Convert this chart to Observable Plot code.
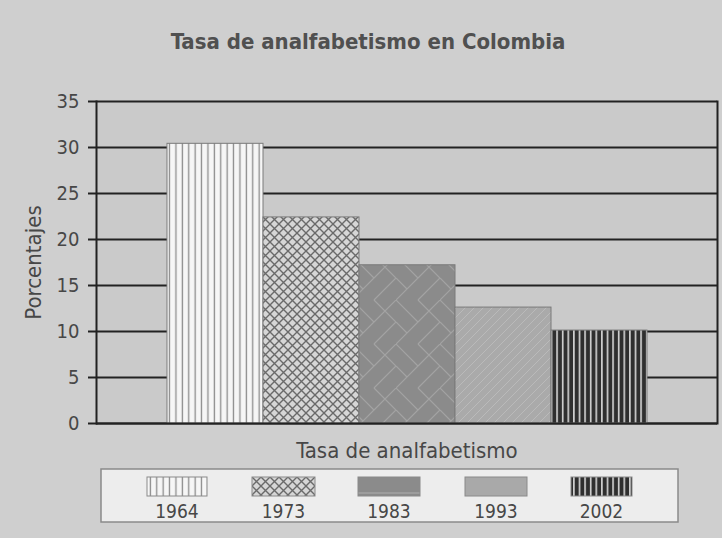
<!DOCTYPE html>
<html>
<head>
<meta charset="utf-8">
<script src="https://cdn.jsdelivr.net/npm/d3@7"></script>
<script src="https://cdn.jsdelivr.net/npm/@observablehq/plot@0.6"></script>
<style>
  html, body { margin: 0; padding: 0; }
  body { width: 722px; height: 538px; background: #cfcfcf; overflow: hidden; position: relative;
         font-family: "DejaVu Sans Condensed", "DejaVu Sans", sans-serif; color: #474747; }
  #title { position: absolute; left: 0; top: 29px; width: 736px; text-align: center;
           font-size: 22px; font-weight: bold; color: #505050; }
  #chart { position: absolute; left: 0; top: 80px; }
  #legend { position: absolute; left: 0; top: 0; }
</style>
</head>
<body>
<svg width="0" height="0" style="position:absolute">
  <defs>
    <pattern id="p1964" patternUnits="userSpaceOnUse" width="6.4" height="10">
      <rect width="6.4" height="10" fill="#f6f6f6"/>
      <rect x="2.5" width="1.3" height="10" fill="#8a8a8a"/>
    </pattern>
    <pattern id="p1973" patternUnits="userSpaceOnUse" width="9" height="9">
      <rect width="9" height="9" fill="#d6d6d6"/>
      <path d="M0,0L9,9M9,0L0,9" stroke="#6a6a6a" stroke-width="1.4"/>
    </pattern>
    <pattern id="p1983" patternUnits="userSpaceOnUse" width="44" height="44">
      <rect width="44" height="44" fill="#8b8b8b"/>
      <path d="M0,0L22,22L0,44M0,22L11,33M22,0L44,22L22,44M22,22L44,0M22,44L44,22" stroke="#a3a3a3" stroke-width="1.2" fill="none"/>
    </pattern>
    <pattern id="p1993" patternUnits="userSpaceOnUse" width="9" height="9">
      <rect width="9" height="9" fill="#aaaaaa"/>
      <path d="M-3,3L3,-3M0,9L9,0M6,12L12,6" stroke="#bababa" stroke-width="1"/>
    </pattern>
    <pattern id="p2002" patternUnits="userSpaceOnUse" width="5.6" height="10">
      <rect width="5.6" height="10" fill="#2f2f2f"/>
      <rect x="2" width="1.4" height="10" fill="#eeeeee"/>
    </pattern>
    <pattern id="l1983" patternUnits="userSpaceOnUse" width="10" height="19" y="477">
      <rect width="10" height="19" fill="#8b8b8b"/>
      <rect y="15.5" width="10" height="1" fill="#b0b0b0"/>
    </pattern>
  </defs>
</svg>
<div id="title">Tasa de analfabetismo en Colombia</div>
<div id="chart"></div>
<svg id="legend" width="722" height="538"></svg>
<script>
const years = ["1964", "1973", "1983", "1993", "2002"];
const values = [30.4, 22.4, 17.2, 12.6, 10.1];
const yTicks = [0, 5, 10, 15, 20, 25, 30, 35];
const yLabel = "Porcentajes";
const xLabel = "Tasa de analfabetismo";

const data = years.map((y, i) => ({year: y, value: values[i]}));
const font = "'DejaVu Sans Condensed', 'DejaVu Sans', sans-serif";

const chart = Plot.plot({
  width: 722,
  height: 382,
  marginTop: 21,
  marginBottom: 39,
  marginLeft: 96,
  marginRight: 5,
  style: {background: "transparent", fontFamily: font, fontSize: "20px", color: "#474747"},
  x: {domain: years, paddingInner: 0, paddingOuter: 0.72, axis: null},
  y: {domain: [0, 35], ticks: yTicks, axis: null},
  color: {type: "identity"},
  marks: [
    Plot.frame({fill: "#cacaca", stroke: "none"}),
    Plot.ruleY(yTicks, {stroke: "#222", strokeWidth: 2}),
    Plot.barY(data, {x: "year", y: "value", fill: d => `url(#p${d.year})`, stroke: "#7a7a7a", strokeWidth: 1}),
    Plot.ruleY([0], {stroke: "#222", strokeWidth: 2}),
    Plot.axisY({ticks: yTicks, tickSize: 8, tickPadding: 9, label: null, stroke: "#222", strokeWidth: 2, fill: "#474747", fontSize: 20}),
    Plot.frame({anchor: "left", stroke: "#222", strokeWidth: 2}),
    Plot.frame({anchor: "right", stroke: "#222", strokeWidth: 2}),
    Plot.text([yLabel], {frameAnchor: "left", textAnchor: "middle", dx: -63, rotate: -90, fill: "#474747", fontSize: 22}),
    Plot.text([xLabel], {frameAnchor: "bottom", lineAnchor: "bottom", dy: 34, fill: "#474747", fontSize: 22})
  ]
});
document.getElementById("chart").appendChild(chart);

// legend
const leg = d3.select("#legend");
leg.append("rect").attr("x", 101).attr("y", 469).attr("width", 577).attr("height", 53)
  .attr("fill", "#ededed").attr("stroke", "#8a8a8a").attr("stroke-width", 1.5);
const swX = [147, 252, 358, 465, 571];
const swW = [60, 63, 62, 62, 61];
const swFill = ["url(#p1964)", "url(#p1973)", "url(#l1983)", "#a9a9a9", "url(#p2002)"];
const g = leg.selectAll("g.item").data(years).join("g").attr("class", "item");
g.append("rect").attr("x", (d, i) => swX[i]).attr("y", 477).attr("width", (d, i) => swW[i]).attr("height", 19)
  .attr("fill", (d, i) => swFill[i]).attr("stroke", "#8a8a8a").attr("stroke-width", 1);
g.append("text").attr("x", (d, i) => swX[i] + swW[i] / 2).attr("y", 518).attr("text-anchor", "middle")
  .attr("font-size", 19).attr("fill", "#474747")
  .attr("font-family", font).text(d => d);
</script>
</body>
</html>
